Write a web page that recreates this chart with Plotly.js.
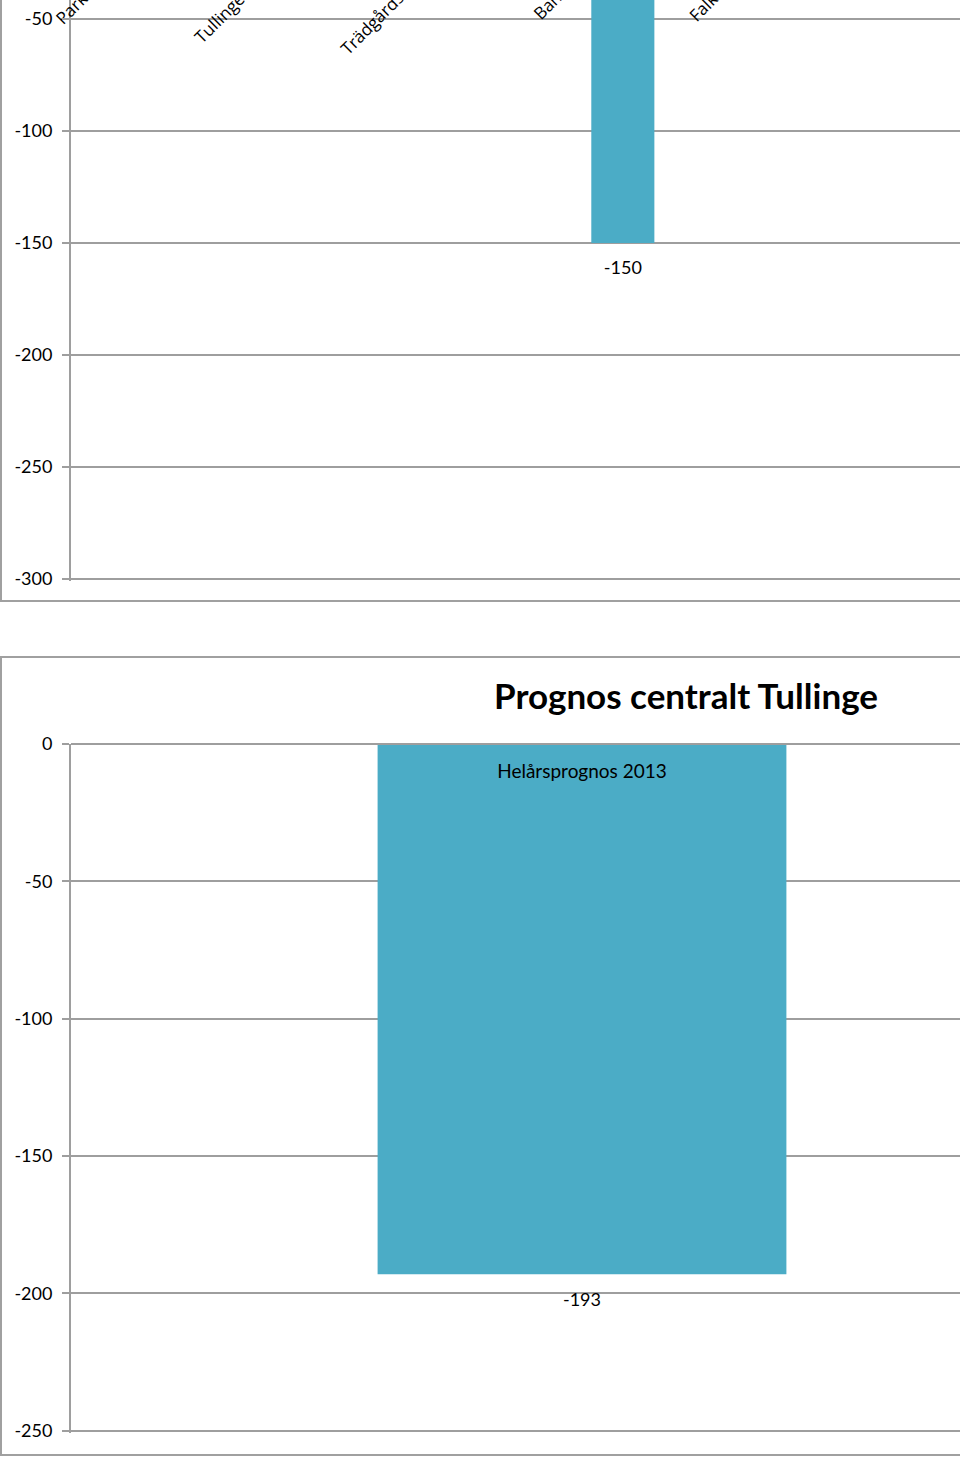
<!DOCTYPE html>
<html>
<head>
<meta charset="utf-8">
<script src="https://cdn.plot.ly/plotly-3.0.1.min.js"></script>
<style>
  html, body { margin: 0; padding: 0; background: #fff; }
  body { width: 960px; height: 1458px; overflow: hidden; position: relative; }
  .frame { position: absolute; border: 0 solid #a0a0a0; }
  #wrapTop { left: 0px; top: -200px; border-left-width: 2px; border-bottom-width: 2px; }
  #wrapBottom { left: 0px; top: 656px; border-left-width: 2px; border-top-width: 2px; border-bottom-width: 2px; }
</style>
</head>
<body>
<div class="frame" id="wrapTop"><div id="chartTop"></div></div>
<div class="frame" id="wrapBottom"><div id="chartBottom"></div></div>
<script>
	// data, top chart (only the part that is visible in the picture)
	var topCats = ['Parkhemsskolan', 'Tullingebergsskolan', 'Trädgårdsstadsskolan', 'Banslättsskolan', 'Falkbergsskolan']
	var topValues = [null, null, null, -150, null]
	var topTicks = [-300, -250, -200, -150, -100, -50, 0]

	// data, bottom chart
	var bottomCats = ['Helårsprognos 2013']
	var bottomValues = [-193]
	var bottomTicks = [-250, -200, -150, -100, -50, 0]

	var barColor = '#4bacc6'
	var gridColor = '#9e9e9e'
	var tickFont = {family: 'Lato, Carlito, sans-serif', size: 18, color: '#000'}

	// small overshoot so the last gridline at the bottom edge is still drawn
	function yAxis(ticks, pad) {
		return {
			range: [ticks[0] - pad, ticks[ticks.length - 1]],
			tickvals: ticks,
			ticktext: ticks.map(String),
			showgrid: true,
			gridcolor: gridColor,
			gridwidth: 2,
			zeroline: false,
			showline: true,
			linecolor: gridColor,
			linewidth: 2,
			ticks: 'outside',
			ticklen: 7,
			tickcolor: gridColor,
			tickwidth: 2,
			ticklabelstandoff: 6,
			tickfont: tickFont,
			fixedrange: true
		}
	}

	function barTrace(cats, vals) {
		return {
			type: 'bar',
			x: cats,
			y: vals,
			marker: {color: barColor},
			hoverinfo: 'skip'
		}
	}

	// value labels under the bar ends
	function labelTrace(cats, vals) {
		return {
			type: 'scatter',
			mode: 'markers+text',
			x: cats,
			y: vals,
			text: vals.map(v => v === null ? '' : String(v)),
			textposition: 'bottom center',
			textfont: tickFont,
			marker: {size: 27, opacity: 0},
			cliponaxis: false,
			hoverinfo: 'skip'
		}
	}

	// top chart: its upper part lies above the page, like the cut picture
	var topLayout = {
		width: 1200,
		height: 800,
		margin: {l: 69, r: 185, t: 107, b: 19},
		paper_bgcolor: '#fff',
		plot_bgcolor: '#fff',
		bargap: 0.6,
		showlegend: false,
		xaxis: {
			type: 'category',
			categoryorder: 'array',
			categoryarray: topCats,
			range: [-0.5, 5.5],
			anchor: 'free',
			position: 1,
			side: 'bottom',
			tickangle: -45,
			tickfont: {family: '"Open Sans", sans-serif', size: 17, color: '#000'},
			ticklabelstandoff: 7,
			showgrid: false,
			showline: true,
			linecolor: gridColor,
			ticks: '',
			fixedrange: true
		},
		yaxis: yAxis(topTicks, 0.9)
	}

	// bottom chart
	var bottomLayout = {
		width: 1368,
		height: 796,
		margin: {l: 69, r: 277, t: 86, b: 21},
		paper_bgcolor: '#fff',
		plot_bgcolor: '#fff',
		bargap: 0.6,
		showlegend: false,
		title: {
			text: '<b>Prognos centralt Tullinge</b>',
			font: {family: 'Lato, Carlito, sans-serif', size: 35, color: '#000'},
			x: 0.5,
			xref: 'container',
			y: 1 - 39 / 796,
			yref: 'container',
			yanchor: 'middle'
		},
		xaxis: {
			type: 'category',
			anchor: 'free',
			position: 1,
			side: 'bottom',
			tickfont: {family: 'Lato, Carlito, sans-serif', size: 19, color: '#000'},
			ticklabelstandoff: 10,
			showgrid: false,
			showline: true,
			linecolor: gridColor,
			linewidth: 2,
			ticks: '',
			fixedrange: true
		},
		yaxis: yAxis(bottomTicks, 0.8)
	}

	var config = {displayModeBar: false, staticPlot: true}
	Plotly.newPlot('chartTop', [barTrace(topCats, topValues), labelTrace(topCats, topValues)], topLayout, config)
	Plotly.newPlot('chartBottom', [barTrace(bottomCats, bottomValues), labelTrace(bottomCats, bottomValues)], bottomLayout, config)
</script>
</body>
</html>
